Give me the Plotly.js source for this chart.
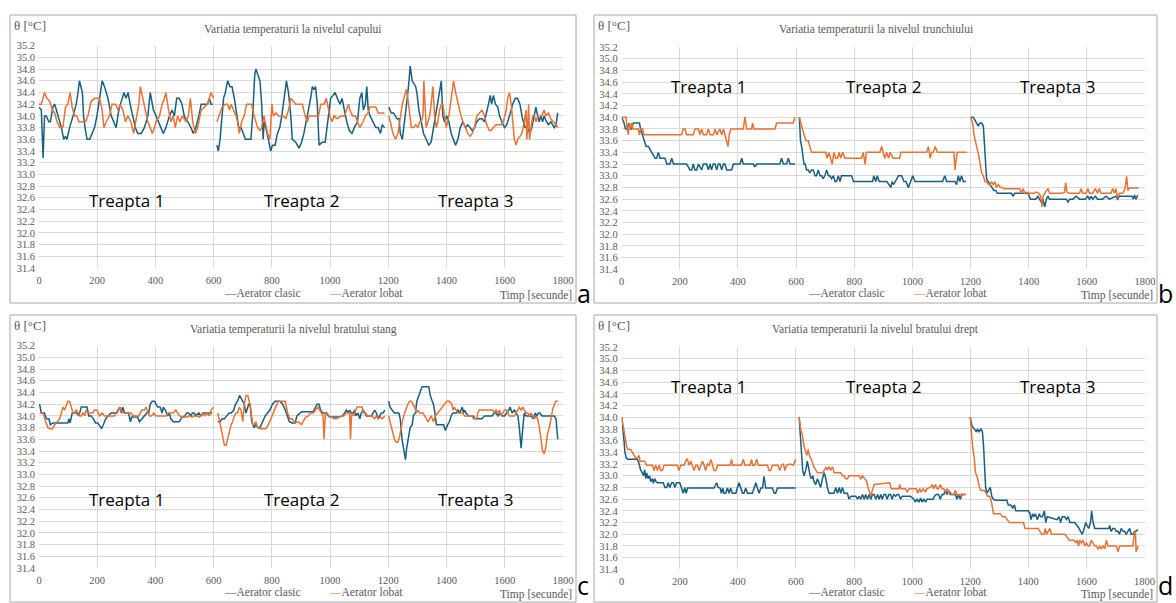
<!DOCTYPE html>
<html><head><meta charset="utf-8">
<script src="https://cdn.plot.ly/plotly-3.0.1.min.js"></script>
<style>html,body{margin:0;padding:0;background:#fff}#chart{width:1176px;height:603px}</style>
</head><body><div id="chart"></div>
<script>
// ---------- DATA (time [s], temperature [°C]) ----------
const seriesNames = ["Aerator clasic", "Aerator lobat"];
const panelTitles = [
  "Variatia temperaturii la nivelul capului",
  "Variatia temperaturii la nivelul trunchiului",
  "Variatia temperaturii la nivelul bratului stang",
  "Variatia temperaturii la nivelul bratului drept"
];
const panelLetters = ["a", "b", "c", "d"];
const stageLabels = ["Treapta 1", "Treapta 2", "Treapta 3"];
const stageTimes = [300, 900, 1500];
const stageLevels = [32.55, 34.52, 32.57, 34.52];

const capClasic = [[0,34.15],[8,34.1],[14,33.28],[19,34.0],[25,34.0],[34,33.9],[39,33.9],[48,34.15],[54,34.2],[65,34.0],[77,33.8],[85,33.6],[91,33.65],[96,33.6],[105,33.8],[117,34.0],[128,34.2],[134,34.4],[139,34.6],[149,34.4],[153,34.0],[158,33.8],[165,33.6],[174,33.6],[182,33.7],[191,33.8],[199,34.0],[208,34.3],[217,34.6],[225,34.5],[237,34.3],[248,34.0],[256,33.9],[265,33.8],[274,34.1],[285,34.3],[292,34.4],[299,34.3],[306,34.4],[313,34.2],[322,34.0],[331,33.8],[339,33.7],[351,33.7],[362,33.8],[374,34.0],[382,34.4],[393,34.1],[402,34.0],[411,33.9],[419,33.8],[427,33.7],[436,33.8],[448,34.0],[457,34.1],[465,34.0],[473,34.3],[482,34.3],[491,34.2],[499,34.0],[511,33.9],[522,33.8],[530,33.7],[539,33.8],[549,34.0],[557,34.2],[568,34.2],[579,34.2],[585,34.3],[591,34.2],[597,34.2],
[611,33.5],[616,33.4],[622,33.6],[629,34.0],[634,34.3],[640,34.4],[648,34.6],[656,34.5],[663,34.5],[671,34.3],[677,34.1],[686,33.8],[694,33.8],[702,33.7],[709,33.6],[720,33.6],[728,33.6],[734,34.0],[741,34.7],[745,34.8],[751,34.7],[759,34.6],[765,34.2],[770,33.6],[773,33.9],[779,33.8],[788,33.6],[796,33.4],[802,33.5],[811,33.5],[819,33.7],[827,33.8],[834,34.0],[842,34.3],[850,34.6],[857,34.4],[865,34.0],[870,33.6],[882,33.55],[893,33.45],[902,33.55],[910,33.7],[918,33.9],[925,34.1],[933,34.3],[939,34.5],[945,34.45],[950,34.5],[956,34.2],[962,33.5],[973,33.55],[983,33.55],[990,33.8],[996,34.1],[1002,34.3],[1010,34.35],[1017,34.4],[1025,34.3],[1034,34.2],[1041,34.3],[1049,34.1],[1057,33.9],[1066,33.75],[1075,33.7],[1083,33.8],[1094,33.9],[1102,34.3],[1109,34.4],[1114,34.1],[1121,34.2],[1126,34.5],[1131,34.1],[1137,34.0],[1146,33.9],[1157,33.8],[1165,33.8],[1173,33.7],[1179,33.85],[1187,33.8],
[1202,34.15],[1210,34.05],[1218,34.05],[1225,34.0],[1230,33.95],[1237,33.95],[1241,33.7],[1248,33.6],[1253,33.8],[1260,34.0],[1265,34.3],[1271,34.6],[1275,34.85],[1282,34.6],[1287,34.55],[1294,34.5],[1298,34.4],[1305,34.1],[1313,33.9],[1321,33.7],[1330,33.6],[1339,33.5],[1347,33.55],[1355,33.8],[1365,34.1],[1370,34.2],[1376,34.4],[1382,34.6],[1387,34.0],[1393,33.9],[1401,34.0],[1408,33.9],[1416,33.7],[1424,33.6],[1431,33.5],[1439,33.6],[1447,33.8],[1456,33.9],[1465,33.8],[1473,33.85],[1481,33.8],[1488,33.75],[1496,33.8],[1504,33.9],[1513,33.95],[1522,33.95],[1530,33.9],[1538,34.05],[1544,34.2],[1550,34.35],[1555,34.2],[1561,34.35],[1568,34.2],[1576,34.15],[1582,34.0],[1590,33.9],[1599,33.8],[1607,33.85],[1614,33.95],[1622,34.1],[1627,34.2],[1636,34.3],[1644,34.3],[1652,34.2],[1661,33.95],[1670,33.8],[1678,33.8],[1686,33.7],[1693,33.8],[1701,34.0],[1707,34.15],[1713,34.0],[1718,33.9],[1724,34.0],[1730,33.9],[1735,34.0],[1743,33.9],[1750,33.85],[1758,33.9],[1764,33.85],[1770,33.8],[1776,33.85],[1782,34.05]];

const capLobat = [[0,34.2],[8,34.2],[19,34.4],[27,34.3],[37,34.25],[46,34.1],[54,34.05],[62,33.9],[71,33.8],[82,33.8],[91,34.15],[99,34.2],[107,34.4],[114,34.15],[122,34.0],[130,34.0],[137,33.9],[145,33.9],[160,33.9],[168,34.0],[179,34.25],[191,34.3],[208,34.3],[217,34.1],[223,33.8],[231,33.9],[242,34.0],[251,34.2],[263,34.2],[271,34.1],[279,34.2],[288,34.1],[297,33.9],[305,34.0],[316,33.9],[325,33.7],[333,33.9],[343,34.2],[348,34.5],[357,34.3],[365,34.1],[374,33.9],[382,33.8],[389,33.7],[397,33.8],[402,33.9],[414,34.0],[423,34.2],[431,34.3],[436,34.4],[445,34.1],[453,33.9],[461,34.0],[468,33.8],[476,34.0],[484,33.9],[493,34.0],[505,33.9],[513,34.0],[520,34.3],[528,33.9],[537,33.7],[545,33.8],[557,34.1],[568,34.15],[579,34.2],[591,34.4],[599,34.3],
[611,33.9],[619,34.0],[629,34.15],[640,34.2],[648,34.2],[654,34.1],[660,34.2],[668,34.1],[677,34.0],[682,33.9],[688,33.7],[696,33.9],[705,34.0],[713,34.2],[722,34.2],[730,34.2],[739,34.0],[751,33.8],[759,33.75],[765,33.8],[773,34.0],[785,33.7],[793,33.6],[800,34.2],[805,34.0],[814,34.05],[823,34.0],[831,34.0],[839,34.0],[848,33.95],[857,34.1],[865,34.3],[873,34.25],[882,34.2],[893,34.2],[905,34.2],[914,34.0],[922,33.9],[928,34.0],[939,34.0],[950,34.0],[960,34.0],[968,34.2],[979,34.2],[987,34.3],[994,34.1],[999,34.0],[1006,33.9],[1014,34.0],[1025,33.95],[1037,34.0],[1049,34.0],[1057,34.1],[1063,34.2],[1068,34.1],[1077,34.0],[1087,34.0],[1094,33.9],[1102,33.8],[1113,33.9],[1121,34.0],[1130,34.05],[1137,34.15],[1146,34.15],[1157,34.15],[1165,34.05],[1176,34.05],[1187,34.05],
[1202,34.0],[1210,33.8],[1216,33.7],[1225,33.6],[1233,33.7],[1239,33.9],[1248,34.2],[1256,34.35],[1262,34.45],[1267,34.3],[1273,34.0],[1279,33.8],[1287,33.8],[1294,33.85],[1302,33.8],[1308,33.9],[1313,33.9],[1319,34.0],[1322,34.6],[1327,34.2],[1330,33.8],[1336,33.9],[1342,34.0],[1347,34.2],[1353,34.5],[1359,34.0],[1365,33.8],[1370,33.9],[1376,34.1],[1382,34.2],[1387,34.2],[1393,34.0],[1399,33.8],[1408,34.0],[1416,34.3],[1424,34.6],[1431,34.4],[1439,34.2],[1445,34.1],[1450,34.0],[1456,33.9],[1465,33.8],[1473,33.7],[1481,33.65],[1488,33.7],[1496,33.8],[1504,34.0],[1513,34.05],[1522,34.1],[1530,34.0],[1538,33.85],[1547,33.75],[1553,33.75],[1561,33.8],[1570,33.85],[1579,33.85],[1587,33.85],[1595,33.9],[1605,34.1],[1610,34.3],[1616,34.4],[1622,34.2],[1627,33.95],[1633,33.6],[1639,33.5],[1644,33.6],[1652,33.65],[1659,33.7],[1667,33.9],[1673,34.1],[1676,33.6],[1682,34.2],[1685,33.6],[1690,33.8],[1696,34.0],[1702,34.0],[1707,33.9],[1713,34.0],[1718,34.0],[1727,34.0],[1735,34.1],[1741,34.0],[1750,34.05],[1758,33.95],[1766,33.9],[1776,33.85],[1782,33.8]];

const trunchiClasic = [[0,34.0],[8,33.9],[13,33.8],[19,33.8],[24,33.9],[29,33.8],[34,33.8],[40,33.9],[52,33.9],[61,33.9],[65,33.8],[72,33.7],[78,33.6],[84,33.5],[92,33.5],[97,33.45],[103,33.4],[109,33.35],[115,33.3],[120,33.3],[126,33.4],[132,33.3],[149,33.3],[155,33.2],[166,33.2],[172,33.3],[178,33.2],[223,33.2],[229,33.15],[235,33.1],[241,33.1],[246,33.2],[252,33.1],[258,33.1],[264,33.2],[269,33.15],[275,33.1],[281,33.2],[292,33.2],[298,33.1],[304,33.2],[309,33.1],[315,33.2],[321,33.2],[327,33.1],[332,33.2],[338,33.2],[344,33.1],[350,33.2],[355,33.2],[361,33.1],[378,33.1],[384,33.2],[407,33.2],[413,33.3],[418,33.2],[453,33.2],[458,33.15],[464,33.2],[544,33.2],[550,33.3],[556,33.2],[567,33.2],[573,33.3],[579,33.2],[596,33.2],
[611,34.0],[615,33.6],[619,33.5],[622,33.4],[627,33.2],[631,33.2],[636,33.1],[642,33.1],[647,33.05],[653,33.1],[659,33.1],[665,33.0],[670,33.0],[676,33.1],[682,33.0],[688,33.0],[693,32.95],[699,33.0],[705,33.1],[711,33.0],[716,33.0],[722,32.95],[728,33.0],[734,32.9],[739,32.9],[745,33.0],[751,32.9],[756,33.0],[791,33.0],[797,32.9],[863,32.9],[867,33.0],[874,32.9],[879,33.0],[886,32.9],[912,32.9],[920,32.85],[926,32.8],[930,32.9],[935,32.85],[941,32.9],[952,33.0],[963,33.0],[971,32.9],[978,32.9],[986,32.8],[994,32.9],[1001,33.0],[1009,32.9],[1104,32.9],[1111,33.0],[1118,32.9],[1146,32.9],[1152,32.85],[1158,33.0],[1163,32.9],[1169,33.0],[1175,32.9],[1184,32.9],
[1201,34.0],[1209,34.0],[1215,33.95],[1221,33.9],[1226,33.85],[1232,33.9],[1238,33.9],[1244,33.85],[1248,33.5],[1251,33.2],[1255,32.95],[1261,32.9],[1267,32.85],[1272,32.8],[1280,32.75],[1287,32.75],[1292,32.7],[1341,32.7],[1346,32.65],[1352,32.7],[1398,32.7],[1406,32.6],[1424,32.6],[1432,32.65],[1438,32.6],[1443,32.55],[1449,32.6],[1455,32.47],[1461,32.6],[1466,32.65],[1472,32.6],[1529,32.6],[1535,32.55],[1541,32.6],[1552,32.6],[1563,32.65],[1575,32.6],[1595,32.6],[1603,32.65],[1609,32.6],[1615,32.65],[1620,32.6],[1629,32.65],[1637,32.6],[1654,32.6],[1666,32.65],[1677,32.6],[1700,32.65],[1706,32.6],[1712,32.65],[1723,32.65],[1755,32.65],[1760,32.6],[1764,32.67],[1769,32.6],[1775,32.67]];

const trunchiLobat = [[0,34.0],[8,34.0],[15,34.0],[19,33.8],[23,33.7],[26,33.9],[31,33.8],[34,33.9],[40,33.8],[57,33.8],[61,33.7],[65,33.8],[72,33.8],[77,33.7],[206,33.7],[212,33.8],[218,33.8],[223,33.7],[246,33.7],[252,33.8],[264,33.8],[269,33.7],[275,33.8],[281,33.7],[292,33.7],[298,33.8],[304,33.7],[315,33.7],[321,33.8],[327,33.7],[338,33.8],[344,33.7],[350,33.8],[355,33.7],[361,33.6],[366,33.5],[370,33.7],[375,33.8],[418,33.8],[424,34.0],[430,33.8],[447,33.8],[450,33.9],[455,33.8],[527,33.8],[533,33.9],[590,33.9],[596,34.0],
[611,34.0],[616,33.9],[622,33.8],[627,33.7],[634,33.6],[642,33.6],[647,33.5],[653,33.4],[702,33.4],[707,33.3],[713,33.4],[718,33.3],[724,33.2],[730,33.4],[736,33.3],[742,33.3],[748,33.4],[753,33.3],[760,33.4],[768,33.3],[825,33.3],[831,33.4],[837,33.2],[842,33.4],[888,33.4],[894,33.5],[899,33.4],[905,33.3],[911,33.4],[918,33.3],[923,33.4],[933,33.3],[956,33.3],[960,33.4],[1049,33.4],[1055,33.5],[1061,33.3],[1066,33.4],[1072,33.4],[1078,33.5],[1086,33.4],[1143,33.4],[1146,33.1],[1150,33.3],[1154,33.4],[1187,33.4],
[1201,34.0],[1207,33.9],[1212,33.7],[1219,33.5],[1223,33.45],[1228,33.35],[1232,33.2],[1238,33.05],[1244,33.0],[1249,32.9],[1255,32.9],[1261,32.85],[1267,32.85],[1272,32.9],[1278,32.85],[1284,32.9],[1289,32.8],[1295,32.85],[1303,32.8],[1310,32.8],[1315,32.78],[1369,32.78],[1375,32.7],[1381,32.78],[1386,32.7],[1392,32.72],[1401,32.7],[1417,32.7],[1426,32.72],[1435,32.7],[1441,32.65],[1446,32.47],[1449,32.65],[1455,32.7],[1461,32.75],[1466,32.78],[1472,32.7],[1515,32.7],[1523,32.72],[1527,32.88],[1532,32.72],[1541,32.7],[1575,32.7],[1580,32.78],[1586,32.7],[1598,32.7],[1603,32.78],[1609,32.7],[1620,32.7],[1629,32.78],[1637,32.7],[1643,32.78],[1649,32.7],[1683,32.7],[1689,32.78],[1695,32.7],[1700,32.78],[1706,32.62],[1712,32.7],[1723,32.7],[1731,32.78],[1737,32.99],[1741,32.75],[1746,32.79],[1778,32.79]];

const stangClasic = [[2,34.2],[8,34.05],[19,34.05],[25,33.95],[34,33.95],[39,33.85],[48,33.88],[99,33.88],[103,33.95],[107,33.88],[114,34.05],[130,34.05],[137,34.0],[142,34.1],[145,34.15],[165,34.15],[171,34.0],[179,34.0],[187,33.95],[194,33.88],[202,33.88],[210,33.82],[215,33.78],[221,33.85],[229,33.95],[237,34.0],[248,34.05],[267,34.05],[274,34.1],[279,34.15],[283,34.05],[288,34.15],[294,34.05],[308,34.05],[314,33.9],[319,33.98],[339,33.98],[345,33.9],[354,33.95],[362,34.0],[370,34.05],[377,34.05],[382,34.2],[389,34.25],[397,34.25],[402,34.2],[408,34.15],[416,34.15],[423,34.05],[427,34.15],[434,34.1],[442,34.0],[448,34.05],[453,33.95],[461,33.9],[482,33.9],[491,33.98],[499,33.98],[507,34.05],[514,34.05],[522,34.0],[527,34.05],[533,34.05],[539,34.0],[549,34.05],[557,34.0],[565,34.05],[595,34.05],
[614,33.9],[622,33.9],[629,33.95],[637,33.95],[645,34.0],[653,34.05],[661,34.05],[669,34.1],[675,34.2],[682,34.25],[689,34.35],[694,34.3],[700,34.25],[705,34.2],[711,34.05],[720,34.2],[725,34.2],[731,33.9],[739,33.8],[745,33.85],[751,33.8],[759,33.8],[768,33.9],[777,34.0],[785,34.05],[793,34.1],[802,34.2],[811,34.25],[827,34.25],[837,34.2],[846,34.1],[854,34.0],[860,33.9],[869,33.88],[880,33.88],[886,34.0],[895,34.05],[902,34.07],[942,34.07],[951,34.15],[955,34.2],[962,34.2],[967,34.1],[974,34.05],[987,34.05],[994,34.0],[999,33.98],[1033,33.98],[1042,34.0],[1050,34.05],[1056,34.1],[1062,34.05],[1067,34.1],[1073,34.05],[1079,34.05],[1085,34.1],[1088,34.0],[1096,34.05],[1102,33.95],[1107,34.05],[1113,34.1],[1119,34.05],[1125,34.0],[1142,34.0],[1148,34.05],[1153,34.1],[1159,34.05],[1165,33.95],[1170,34.0],[1176,34.05],[1182,34.05],[1188,34.1],
[1201,34.25],[1206,34.15],[1213,34.1],[1221,34.05],[1236,34.05],[1241,33.95],[1247,33.6],[1253,33.4],[1259,33.25],[1263,33.45],[1270,33.7],[1275,33.8],[1282,33.85],[1286,34.0],[1293,34.05],[1298,34.25],[1305,34.35],[1311,34.45],[1316,34.5],[1339,34.5],[1344,34.35],[1351,34.25],[1355,34.2],[1360,34.05],[1365,33.85],[1390,33.85],[1396,33.75],[1404,33.85],[1410,33.9],[1416,34.0],[1422,34.05],[1433,34.05],[1439,34.1],[1445,34.05],[1450,34.1],[1454,34.15],[1458,34.05],[1462,34.1],[1467,34.05],[1476,34.0],[1492,34.0],[1499,33.95],[1522,33.95],[1530,34.0],[1556,34.0],[1564,34.05],[1570,34.05],[1576,34.0],[1584,34.05],[1591,34.0],[1599,34.0],[1607,34.05],[1614,34.1],[1618,34.15],[1625,34.05],[1633,34.1],[1639,34.05],[1645,34.0],[1650,33.8],[1656,33.45],[1662,33.8],[1667,34.05],[1673,34.0],[1690,34.0],[1698,33.95],[1705,34.05],[1710,34.0],[1716,34.05],[1721,34.05],[1728,34.0],[1770,34.0],[1776,33.95],[1782,33.6]];

const stangLobat = [[2,34.05],[14,34.05],[23,33.9],[31,33.8],[39,33.78],[46,33.78],[54,33.85],[62,33.9],[71,33.95],[77,34.05],[82,34.15],[88,34.1],[94,34.2],[99,34.25],[105,34.25],[111,34.15],[117,34.05],[122,34.05],[128,34.1],[134,34.05],[140,34.0],[145,34.0],[151,34.05],[157,34.0],[162,34.1],[168,34.05],[185,34.05],[191,34.1],[199,34.1],[208,34.0],[217,34.05],[225,34.0],[259,34.0],[265,34.05],[271,34.1],[277,34.15],[282,34.1],[290,34.05],[316,34.05],[325,34.0],[343,34.0],[347,34.05],[354,34.1],[362,34.1],[368,34.15],[374,34.05],[380,34.0],[386,34.0],[394,34.05],[402,34.0],[436,34.0],[445,34.05],[461,34.05],[470,34.1],[476,34.05],[484,34.0],[491,33.98],[499,34.0],[507,33.98],[517,34.0],[526,33.98],[533,34.0],[542,34.0],[551,33.98],[561,34.05],[569,34.0],[577,34.05],[586,34.0],[591,34.1],[599,34.15],
[614,34.05],[619,33.95],[625,33.8],[631,33.65],[637,33.5],[643,33.5],[648,33.6],[654,33.75],[660,33.85],[665,33.9],[671,34.0],[677,34.05],[682,34.05],[688,34.15],[694,34.1],[700,33.9],[705,34.2],[711,34.35],[717,34.35],[722,34.25],[728,34.1],[734,33.85],[739,33.85],[745,33.9],[751,33.8],[759,33.78],[779,33.78],[788,33.85],[796,33.95],[803,34.05],[813,34.15],[822,34.25],[846,34.25],[854,34.05],[862,33.95],[870,33.95],[878,33.88],[890,33.9],[902,33.85],[907,33.9],[916,33.98],[925,34.0],[933,34.05],[942,34.05],[951,34.1],[958,34.15],[964,34.1],[970,34.05],[976,34.0],[979,33.6],[984,34.05],[990,34.05],[996,34.0],[1005,33.98],[1013,33.95],[1022,33.95],[1031,33.98],[1039,34.0],[1047,34.0],[1054,34.05],[1067,34.05],[1070,33.6],[1074,34.05],[1081,34.0],[1088,34.1],[1093,34.15],[1110,34.15],[1114,34.05],[1121,34.05],[1129,34.0],[1144,34.0],[1153,33.95],[1159,34.0],[1165,33.95],[1173,33.98],[1179,33.95],[1188,34.0],
[1201,34.0],[1206,33.9],[1210,33.8],[1216,33.7],[1221,33.6],[1227,33.55],[1233,33.55],[1239,33.65],[1244,33.8],[1250,33.95],[1256,34.05],[1262,34.15],[1267,34.2],[1273,34.25],[1279,34.25],[1285,34.2],[1290,34.15],[1296,34.05],[1302,34.1],[1307,34.05],[1319,34.05],[1325,34.0],[1330,33.95],[1336,33.9],[1342,33.95],[1347,34.0],[1351,33.95],[1355,33.9],[1362,34.0],[1370,34.05],[1378,34.1],[1385,34.15],[1393,34.2],[1401,34.25],[1410,34.25],[1418,34.2],[1422,34.1],[1427,34.15],[1433,34.1],[1439,34.05],[1456,34.05],[1462,34.0],[1488,34.0],[1492,33.95],[1504,33.95],[1507,34.05],[1513,34.1],[1559,34.1],[1564,34.05],[1570,34.1],[1576,34.05],[1582,34.1],[1587,34.0],[1593,34.05],[1599,34.1],[1605,34.1],[1610,34.05],[1616,34.0],[1633,34.0],[1639,34.05],[1645,34.1],[1650,34.15],[1656,34.1],[1662,34.15],[1667,34.1],[1673,34.05],[1679,34.05],[1685,34.0],[1690,34.05],[1696,34.0],[1702,33.95],[1707,34.0],[1713,33.95],[1719,33.8],[1725,33.6],[1730,33.4],[1736,33.35],[1742,33.5],[1747,33.7],[1753,33.8],[1759,33.95],[1764,34.1],[1770,34.2],[1776,34.25],[1782,34.25]];

const dreptClasic = [[0,34.0],[5,33.8],[8,33.6],[11,33.4],[16,33.3],[22,33.28],[54,33.28],[60,33.2],[65,33.1],[71,33.05],[75,33.0],[79,33.1],[83,32.95],[86,33.05],[91,32.95],[96,33.0],[100,32.9],[106,32.95],[109,32.87],[114,32.95],[118,32.9],[123,32.88],[143,32.88],[149,32.8],[155,32.8],[160,32.88],[166,32.8],[172,32.88],[178,32.88],[183,32.8],[189,32.88],[200,32.88],[205,32.8],[212,32.7],[217,32.8],[222,32.7],[227,32.79],[318,32.79],[327,32.88],[332,32.8],[339,32.79],[343,32.7],[348,32.79],[352,32.7],[358,32.7],[364,32.79],[370,32.7],[375,32.79],[381,32.7],[393,32.7],[398,32.79],[404,32.88],[410,32.79],[416,32.7],[421,32.7],[427,32.79],[433,32.7],[450,32.7],[456,32.79],[462,32.88],[467,32.79],[473,32.7],[479,32.79],[485,32.79],[490,32.99],[496,32.79],[519,32.79],[525,32.7],[530,32.7],[536,32.79],[599,32.79],
[611,34.0],[616,33.6],[620,33.3],[623,33.1],[628,33.0],[634,33.1],[639,33.25],[644,33.1],[649,33.0],[653,32.95],[658,33.0],[662,32.9],[668,32.85],[674,32.95],[680,32.85],[685,32.8],[691,32.95],[697,33.05],[703,32.95],[708,32.8],[714,32.7],[731,32.7],[737,32.8],[743,32.7],[749,32.8],[754,32.7],[760,32.8],[766,32.7],[777,32.7],[783,32.6],[789,32.65],[806,32.65],[812,32.6],[817,32.65],[823,32.6],[829,32.68],[835,32.6],[840,32.68],[846,32.6],[852,32.68],[858,32.6],[863,32.68],[869,32.68],[875,32.6],[881,32.68],[886,32.6],[892,32.68],[897,32.6],[903,32.68],[909,32.68],[914,32.6],[920,32.68],[926,32.68],[931,32.6],[937,32.68],[943,32.65],[949,32.68],[954,32.68],[960,32.6],[966,32.65],[994,32.65],[1006,32.6],[1011,32.55],[1017,32.6],[1023,32.55],[1029,32.62],[1034,32.55],[1040,32.6],[1046,32.55],[1051,32.6],[1072,32.6],[1077,32.65],[1083,32.68],[1091,32.68],[1097,32.6],[1103,32.68],[1109,32.68],[1114,32.75],[1120,32.68],[1126,32.75],[1131,32.68],[1149,32.68],[1154,32.6],[1160,32.68],[1166,32.6],[1171,32.68],[1183,32.68],
[1200,34.0],[1206,33.85],[1214,33.8],[1221,33.75],[1225,33.8],[1230,33.75],[1237,33.8],[1242,33.75],[1246,33.5],[1249,33.1],[1253,32.8],[1257,32.7],[1263,32.75],[1269,32.8],[1274,32.65],[1280,32.6],[1286,32.58],[1326,32.58],[1331,32.5],[1339,32.5],[1346,32.45],[1352,32.5],[1357,32.4],[1400,32.4],[1406,32.35],[1409,32.25],[1415,32.35],[1419,32.3],[1424,32.35],[1431,32.25],[1438,32.35],[1442,32.3],[1449,32.3],[1455,32.4],[1460,32.2],[1465,32.3],[1499,32.25],[1506,32.3],[1511,32.2],[1517,32.3],[1525,32.3],[1531,32.25],[1537,32.3],[1543,32.2],[1560,32.2],[1568,32.15],[1575,32.1],[1580,32.05],[1586,32.0],[1592,32.1],[1598,32.2],[1602,32.15],[1608,32.1],[1614,32.2],[1618,32.4],[1623,32.2],[1629,32.1],[1677,32.1],[1680,32.15],[1685,32.05],[1691,32.1],[1697,32.1],[1703,32.05],[1709,32.05],[1714,32.0],[1720,32.1],[1726,32.05],[1731,32.05],[1737,32.0],[1743,32.05],[1749,32.1],[1754,32.0],[1760,32.0],[1766,32.05],[1771,32.05],[1777,32.08]];

const dreptLobat = [[0,34.0],[6,33.8],[10,33.75],[14,33.6],[17,33.5],[22,33.45],[31,33.45],[37,33.4],[42,33.35],[48,33.3],[54,33.3],[60,33.35],[63,33.25],[79,33.25],[86,33.18],[106,33.18],[111,33.09],[117,33.18],[123,33.09],[129,33.18],[134,33.09],[140,33.09],[146,33.18],[192,33.18],[197,33.09],[203,33.18],[215,33.18],[220,33.25],[226,33.29],[232,33.18],[238,33.25],[243,33.18],[249,33.09],[255,33.18],[261,33.18],[267,33.09],[272,33.18],[278,33.25],[284,33.18],[289,33.09],[295,33.2],[301,33.18],[307,33.28],[312,33.18],[318,33.09],[324,33.09],[330,33.18],[373,33.18],[378,33.28],[382,33.18],[412,33.18],[419,33.28],[424,33.18],[442,33.18],[447,33.28],[451,33.18],[458,33.18],[465,33.28],[470,33.18],[502,33.18],[507,33.09],[513,33.09],[519,33.18],[538,33.18],[544,33.09],[550,33.18],[557,33.2],[562,33.09],[567,33.18],[580,33.2],[591,33.18],[599,33.28],
[611,34.0],[616,33.8],[622,33.7],[628,33.5],[634,33.4],[637,33.35],[642,33.45],[646,33.35],[651,33.3],[657,33.2],[662,33.15],[668,33.1],[674,33.05],[691,33.05],[699,33.1],[703,33.15],[708,33.1],[714,33.15],[720,33.1],[726,33.15],[731,33.05],[754,33.05],[760,33.0],[766,33.0],[771,32.95],[777,32.95],[783,33.0],[817,33.0],[823,32.95],[829,33.0],[837,32.95],[844,32.9],[848,32.8],[853,32.7],[858,32.65],[863,32.75],[869,32.85],[923,32.88],[928,32.78],[954,32.78],[957,32.85],[961,32.78],[977,32.78],[983,32.72],[989,32.78],[1015,32.78],[1019,32.7],[1026,32.78],[1031,32.72],[1038,32.78],[1046,32.72],[1051,32.78],[1063,32.8],[1069,32.85],[1074,32.78],[1080,32.85],[1086,32.78],[1091,32.78],[1097,32.85],[1103,32.78],[1109,32.78],[1114,32.72],[1120,32.78],[1126,32.72],[1131,32.72],[1137,32.68],[1143,32.68],[1149,32.75],[1154,32.68],[1186,32.68],
[1200,34.0],[1203,33.8],[1208,33.5],[1214,33.3],[1218,33.05],[1223,33.0],[1227,32.9],[1232,32.8],[1237,32.75],[1248,32.75],[1255,32.7],[1259,32.65],[1266,32.65],[1271,32.6],[1275,32.5],[1280,32.35],[1303,32.35],[1312,32.3],[1320,32.3],[1328,32.25],[1335,32.2],[1383,32.2],[1389,32.1],[1434,32.1],[1440,32.05],[1446,32.0],[1454,32.0],[1458,32.1],[1463,32.0],[1469,32.05],[1474,32.1],[1480,32.0],[1526,32.0],[1534,31.95],[1541,31.9],[1557,31.9],[1564,31.85],[1568,31.9],[1573,31.8],[1577,31.9],[1583,31.85],[1589,31.9],[1594,31.8],[1600,31.85],[1606,31.8],[1611,31.8],[1617,31.9],[1623,31.85],[1629,31.8],[1634,31.8],[1640,31.75],[1646,31.8],[1651,31.75],[1657,31.8],[1663,31.75],[1669,31.9],[1674,31.8],[1703,31.8],[1709,31.7],[1714,31.8],[1760,31.8],[1766,32.05],[1769,32.0],[1771,31.7],[1775,31.75],[1778,31.8]];

const panelData = [
  [capClasic, capLobat],
  [trunchiClasic, trunchiLobat],
  [stangClasic, stangLobat],
  [dreptClasic, dreptLobat]
];

// ---------- STYLE / LAYOUT ----------
const W = 1176, H = 603;
const colors = ["#156082", "#E97132"];
const serif = "Liberation Serif";
const gray = "#595959";
const PX = x => x / W;
const PY = y => 1 - y / H;

// panel frames [left, top, right, bottom] and plot areas [left, top, right, bottom] in pixels
const frames = [[10, 15, 576, 303], [594, 15, 1157, 303], [10, 315, 576, 602], [594, 315, 1157, 602]];
const plots = [[39, 45.7, 563, 268], [621.7, 47, 1145, 269.4], [39, 345.7, 563, 568], [621.7, 347, 1144.5, 569.4]];
// bottom edge (px) of the panel-letter text box
const letterBottoms = [311, 311, 603, 603];

function withGaps(pairs) {
  const x = [], y = [];
  let prev = null;
  for (const [t, v] of pairs) {
    const seg = Math.floor(t / 600);
    if (prev !== null && seg !== prev) { x.push(null); y.push(null); }
    x.push(t); y.push(v); prev = seg;
  }
  return { x, y };
}

const traces = [];
const layout = {
  width: W, height: H,
  margin: { l: 0, r: 0, t: 0, b: 0 },
  paper_bgcolor: "#fff", plot_bgcolor: "#fff",
  showlegend: false,
  shapes: [], annotations: []
};

panelData.forEach((pair, i) => {
  const n = i === 0 ? "" : String(i + 1);
  const [pl, pt, pr, pb] = plots[i];
  const [fl, ft, fr, fb] = frames[i];
  pair.forEach((data, s) => {
    const g = withGaps(data);
    traces.push({
      type: "scatter", mode: "lines", x: g.x, y: g.y, name: seriesNames[s],
      xaxis: "x" + n, yaxis: "y" + n, connectgaps: false, hoverinfo: "x+y+name",
      line: { color: colors[s], width: 1.5 }
    });
  });
  layout["xaxis" + n] = {
    domain: [PX(pl), PX(pr)], anchor: "y" + n, range: [0, 1800], tick0: 0, dtick: 200,
    showgrid: true, gridcolor: "#d9d9d9", gridwidth: 1, zeroline: false, showline: false,
    ticks: "", ticklabelstandoff: 4, tickfont: { family: serif, size: 10.5, color: gray }, fixedrange: true
  };
  layout["yaxis" + n] = {
    domain: [PY(pb), PY(pt)], anchor: "x" + n, range: [31.4, 35.2], tick0: 31.4, dtick: 0.2, tickformat: ".1f",
    showgrid: true, gridcolor: "#d9d9d9", gridwidth: 1, zeroline: false, showline: false,
    ticks: "", ticklabelstandoff: 3, tickfont: { family: serif, size: 10.5, color: gray }, fixedrange: true
  };
  // frame
  layout.shapes.push({ type: "rect", xref: "paper", yref: "paper", x0: PX(fl), x1: PX(fr), y0: PY(fb), y1: PY(ft),
    line: { color: "#a6a6a6", width: 1 }, fillcolor: "rgba(0,0,0,0)", layer: "below" });
  const A = layout.annotations;
  // title
  A.push({ xref: "paper", yref: "paper", x: PX((fl + fr) / 2), y: PY(ft + 14.5), xanchor: "center", yanchor: "middle",
    text: panelTitles[i], showarrow: false, font: { family: serif, size: 11.5, color: gray } });
  // y title
  A.push({ xref: "paper", yref: "paper", x: PX(fl + 2), y: PY(ft + 10), xanchor: "left", yanchor: "middle",
    text: "θ [°C]", showarrow: false, font: { family: serif, size: 13, color: gray } });
  // x title
  A.push({ xref: "paper", yref: "paper", x: PX(fr - 2), y: PY(fb - 8), xanchor: "right", yanchor: "middle",
    text: "Timp [secunde]", showarrow: false, font: { family: serif, size: 11.5, color: gray } });
  // legend
  A.push({ xref: "paper", yref: "paper", x: PX(fl + 212), y: PY(fb - 10), xanchor: "left", yanchor: "middle",
    text: '<span style="color:' + colors[0] + '">—</span>' + seriesNames[0], showarrow: false,
    font: { family: serif, size: 11.5, color: gray } });
  A.push({ xref: "paper", yref: "paper", x: PX(fl + 317), y: PY(fb - 10), xanchor: "left", yanchor: "middle",
    text: '<span style="color:' + colors[1] + '">—</span>' + seriesNames[1], showarrow: false,
    font: { family: serif, size: 11.5, color: gray } });
  // panel letter
  A.push({ xref: "paper", yref: "paper", x: PX(fr), y: PY(letterBottoms[i]), xanchor: "left", yanchor: "bottom",
    borderpad: 0, text: panelLetters[i], showarrow: false,
    font: { family: "Open Sans, Liberation Sans, sans-serif", size: 25, color: "#000" } });
  // stage labels
  stageLabels.forEach((lab, k) => {
    A.push({ xref: "x" + n, yref: "y" + n, x: stageTimes[k], y: stageLevels[i], xanchor: "center", yanchor: "middle",
      text: lab, showarrow: false, font: { family: "Open Sans, sans-serif", size: 17, color: "#000" } });
  });
});

Plotly.newPlot("chart", traces, layout, { displayModeBar: false, responsive: false, staticPlot: false });
</script>
</body></html>
